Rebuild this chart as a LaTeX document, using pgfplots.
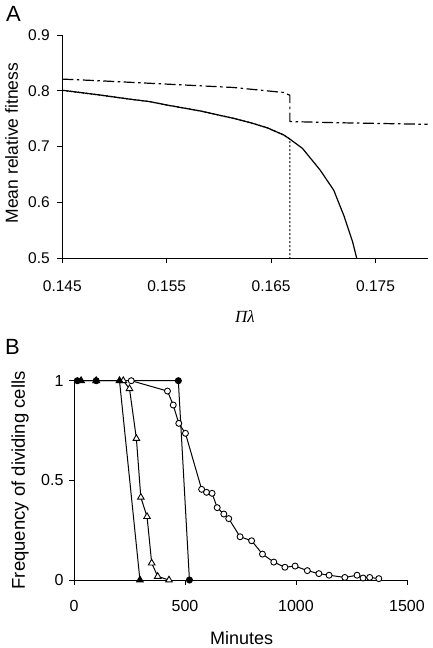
\documentclass[border=0pt]{standalone}
\usepackage{fontspec}
\setmainfont{Liberation Sans}
\newfontfamily\serifit{Liberation Serif}
\usepackage{pgfplots}
\pgfplotsset{compat=1.18}

\pgfplotstableread{
x y
0.145 0.801
0.1486 0.7925
0.1515 0.785
0.1534 0.7806
0.155 0.7746
0.1582 0.764
0.1614 0.7507
0.163 0.743
0.1646 0.734
0.1662 0.721
0.1668 0.7135
0.168 0.697
0.1697 0.658
0.171 0.622
0.172 0.575
0.1728 0.53
0.1732 0.5
}\solidA

\pgfplotstableread{
x y
0.145 0.801
0.1486 0.7925
0.1515 0.785
0.1534 0.7806
0.155 0.7746
0.1582 0.764
0.1614 0.7507
0.163 0.743
0.1646 0.734
0.1662 0.721
0.1668 0.7135
0.1668 0.5
}\dottedA

\pgfplotstableread{
x y
0.145 0.821
0.1486 0.818
0.155 0.812
0.1614 0.806
0.1646 0.800
0.1662 0.797
0.1668 0.792
0.1668 0.745
0.171 0.743
0.18 0.740
}\dashA

\pgfplotstableread{
x y
15 1
100 1
470 1
520 0
}\fcirc

\pgfplotstableread{
x y
32 1
100 1
205 1
297 0
}\ftri

\pgfplotstableread{
x y
222 1
250 0.96
281 0.71
301 0.415
329 0.318
350 0.085
377 0.018
428 0
}\otri

\pgfplotstableread{
x y
258 1
421 0.948
447 0.878
472 0.786
502 0.736
575 0.455
597 0.44
622 0.435
645 0.363
675 0.331
697 0.308
748 0.217
800 0.197
849 0.13
900 0.09
950 0.064
996 0.07
1051 0.047
1103 0.032
1149 0.024
1220 0.013
1275 0.024
1302 0.01
1332 0.013
1373 0.007
}\ocirc

\begin{document}
\begin{tikzpicture}[x=1pt,y=1pt]
\path[use as bounding box] (0,0) rectangle (432,-648);
\node[font=\fontsize{22}{24}\selectfont, inner sep=0pt] at (13.5,-13.5) {A};
\node[font=\fontsize{22}{24}\selectfont, inner sep=0pt] at (12.5,-346.5) {B};

\begin{axis}[
  scale only axis, width=365.4pt, height=223.3pt,
  at={(62.3pt,-258.3pt)}, anchor=south west,
  xmin=0.145, xmax=0.18, ymin=0.5, ymax=0.9,
  axis lines=left, axis line style={-, line width=0.9pt},
  xtick={0.145,0.155,0.165,0.175}, ytick={0.5,0.6,0.7,0.8,0.9},
  tick align=outside, major tick length=5pt,
  tick style={black, line width=0.9pt},
  /pgf/number format/assume math mode=true,
  x tick label style={/pgf/number format/fixed, /pgf/number format/precision=3, /pgf/number format/fixed zerofill},
  y tick label style={/pgf/number format/fixed, /pgf/number format/precision=1, /pgf/number format/fixed zerofill},
  tick label style={font=\fontsize{15.5}{18}\selectfont},
  x tick label style={anchor=center, yshift=-23pt},
  y tick label style={anchor=east, xshift=-4pt},
  xlabel={\serifit\itshape Πλ},
  ylabel={Mean relative fitness},
  xlabel style={at={(axis description cs:0.5,-0.2615)}, anchor=center, font=\fontsize{17}{20}\selectfont},
  ylabel style={at={(axis description cs:-0.1385,0.516)}, anchor=center, rotate=0, font=\fontsize{17.5}{20}\selectfont},
  clip=false,
]
\addplot[black, line width=1.2pt, dash pattern=on 2pt off 2pt] table {\dottedA};
\addplot[black, line width=1.2pt] table {\solidA};
\addplot[black, line width=1.2pt, dash pattern=on 11pt off 3.5pt on 2.5pt off 3.5pt] table {\dashA};
\end{axis}

\begin{axis}[
  scale only axis, width=333pt, height=199.3pt,
  at={(74pt,-580pt)}, anchor=south west,
  xmin=0, xmax=1500, ymin=0, ymax=1,
  axis lines=left, axis line style={-, line width=0.9pt},
  xtick={0,500,1000,1500}, ytick={0,0.5,1},
  tick align=outside, major tick length=5pt,
  tick style={black, line width=0.9pt},
  /pgf/number format/assume math mode=true,
  /pgf/number format/1000 sep={},
  tick label style={font=\fontsize{16}{19}\selectfont},
  x tick label style={anchor=center, yshift=-21pt},
  y tick label style={anchor=east, xshift=-2pt},
  xlabel={Minutes},
  ylabel={Frequency of dividing cells},
  xlabel style={at={(axis description cs:0.5036,-0.2925)}, anchor=center, font=\fontsize{18}{21}\selectfont},
  ylabel style={at={(axis description cs:-0.162,0.5)}, anchor=center, rotate=0, font=\fontsize{18.5}{21}\selectfont},
  clip=false,
]
\addplot[black, line width=1pt, mark=*, mark size=3pt, mark options={solid, fill=white, line width=0.9pt}] table {\ocirc};
\addplot[black, line width=1pt, mark=triangle*, mark size=3.8pt, mark options={solid, fill=white, line width=0.9pt}] table {\otri};
\addplot[black, line width=1pt, mark=triangle*, mark size=3.8pt, mark options={solid, fill=black}] table {\ftri};
\addplot[black, line width=1pt, mark=*, mark size=3pt, mark options={solid, fill=black}] table {\fcirc};
\end{axis}
\end{tikzpicture}
\end{document}
